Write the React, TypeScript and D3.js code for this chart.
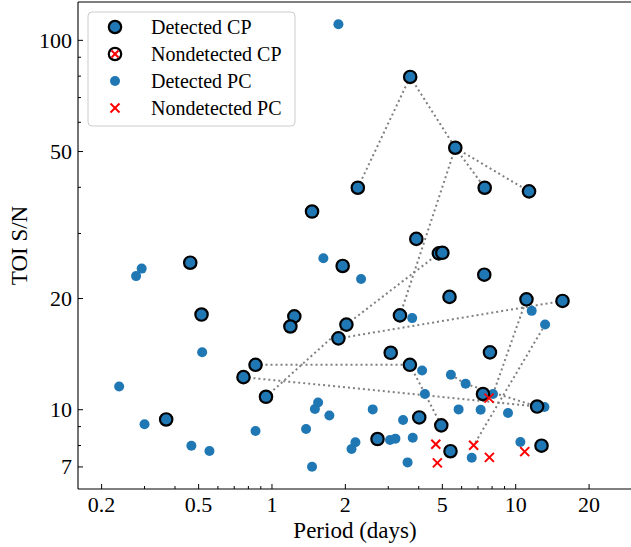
import React from "react";
import * as d3 from "d3";

// ---- data (period in days, TOI S/N) ----
const detectedCPPeriod = [3.69, 5.65, 2.25, 7.46, 11.34, 1.46, 3.91, 4.84, 5.0, 0.462, 1.95, 7.43, 5.35, 11.07, 15.56, 0.514, 1.235, 3.35, 1.19, 2.02, 1.873, 3.07, 7.84, 0.856, 3.68, 0.764, 0.945, 7.34, 12.24, 0.368, 4.02, 4.95, 2.71, 12.76, 5.4];
const detectedCPSNR = [79.6, 51.2, 39.9, 39.9, 39.0, 34.4, 29.0, 26.5, 26.6, 25.0, 24.5, 23.2, 20.2, 19.9, 19.7, 18.1, 17.9, 18.0, 16.8, 17.0, 15.6, 14.26, 14.3, 13.23, 13.23, 12.25, 10.84, 11.03, 10.2, 9.41, 9.53, 9.07, 8.33, 7.99, 7.72];

const detectedPCPeriod = [1.873, 1.625, 2.32, 0.292, 0.277, 3.76, 11.63, 13.2, 0.517, 4.13, 5.42, 6.23, 0.236, 4.24, 8.07, 1.546, 1.5, 2.59, 5.83, 7.18, 13.12, 9.3, 1.72, 3.45, 0.3, 1.38, 0.856, 3.78, 3.05, 3.21, 2.2, 2.12, 10.45, 0.467, 0.554, 1.46, 3.6, 6.6];
const detectedPCSNR = [110.5, 25.7, 22.6, 24.1, 23.0, 17.7, 18.52, 17.0, 14.3, 12.77, 12.43, 11.75, 11.56, 11.03, 11.03, 10.46, 10.04, 10.02, 10.02, 10.0, 10.17, 9.8, 9.65, 9.38, 9.13, 8.87, 8.76, 8.4, 8.28, 8.35, 8.16, 7.83, 8.18, 7.99, 7.73, 7.01, 7.2, 7.41];

const nondetectedPCPeriod = [4.7, 4.77, 6.72, 7.8, 10.89, 7.77];
const nondetectedPCSNR = [8.06, 7.18, 8.01, 7.43, 7.7, 10.75];

const nondetectedCPPeriod: number[] = [];
const nondetectedCPSNR: number[] = [];

// segments joining planets of the same system: [p1, s1, p2, s2]
const systemLinks = [
  [2.25, 39.9, 3.69, 79.6],
  [3.69, 79.6, 5.65, 51.2],
  [5.65, 51.2, 7.46, 39.9],
  [5.65, 51.2, 11.34, 39.0],
  [5.65, 51.2, 3.35, 18.0],
  [0.945, 10.84, 2.02, 17.0],
  [2.02, 17.0, 4.84, 26.5],
  [1.873, 15.6, 15.56, 19.7],
  [0.856, 13.23, 3.68, 13.23],
  [3.68, 13.23, 4.95, 9.07],
  [0.764, 12.25, 12.24, 10.2],
  [5.42, 12.43, 6.23, 11.75],
  [6.23, 11.75, 12.24, 10.2],
  [8.07, 11.03, 11.07, 19.9],
  [13.2, 17.0, 6.72, 8.01],
];

const xMajorTicks = [0.2, 0.5, 1, 2, 5, 10, 20];
const xMajorLabels = ["0.2", "0.5", "1", "2", "5", "10", "20"];
const xMinorTicks = [0.3, 0.4, 0.6, 0.7, 0.8, 0.9, 3, 4, 6, 7, 8, 9];
const yMajorTicks = [7, 10, 20, 50, 100];
const yMajorLabels = ["7", "10", "20", "50", "100"];
const yMinorTicks = [8, 9, 30, 40, 60, 70, 80, 90];

const legendLabels = ["Detected CP", "Nondetected CP", "Detected PC", "Nondetected PC"];

const W = 631;
const H = 547;
const L = 78;
const R = 632;
const T = 2;
const B = 489;
const BLUE = "#1f77b4";
const RED = "#ff0000";
const FONT = "'Liberation Serif', 'Times New Roman', serif";

function Cross({ x, y, s = 4.5 }: { x: number; y: number; s?: number }) {
  return (
    <g stroke={RED} strokeWidth={2}>
      <line x1={x - s} y1={y - s} x2={x + s} y2={y + s} />
      <line x1={x - s} y1={y + s} x2={x + s} y2={y - s} />
    </g>
  );
}

export default function App() {
  const x = d3.scaleLog().domain([0.16, 30]).range([L, R]);
  const y = d3.scaleLog().domain([6.1, 127]).range([B, T]);

  const legendRows = [27, 54, 81, 108];

  return (
    <svg
      width={W}
      height={H}
      style={{ position: "absolute", left: 0, top: 0, background: "#fff" }}
      fontFamily={FONT}
    >
      {/* system links */}
      <g stroke="#808080" strokeWidth={2} strokeDasharray="2,3" fill="none">
        {systemLinks.map((d, i) => (
          <line key={i} x1={x(d[0])} y1={y(d[1])} x2={x(d[2])} y2={y(d[3])} />
        ))}
      </g>
      {/* detected PC */}
      <g fill={BLUE}>
        {detectedPCPeriod.map((p, i) => (
          <circle key={i} cx={x(p)} cy={y(detectedPCSNR[i])} r={5} />
        ))}
      </g>
      {/* detected CP */}
      <g fill={BLUE} stroke="#000" strokeWidth={2.2}>
        {detectedCPPeriod.map((p, i) => (
          <circle key={i} cx={x(p)} cy={y(detectedCPSNR[i])} r={6.2} />
        ))}
      </g>
      {/* nondetected CP */}
      {nondetectedCPPeriod.map((p, i) => (
        <g key={i}>
          <circle cx={x(p)} cy={y(nondetectedCPSNR[i])} r={6.2} fill="#fff" stroke="#000" strokeWidth={2.2} />
          <Cross x={x(p)} y={y(nondetectedCPSNR[i])} s={3.5} />
        </g>
      ))}
      {/* nondetected PC */}
      {nondetectedPCPeriod.map((p, i) => (
        <Cross key={i} x={x(p)} y={y(nondetectedPCSNR[i])} />
      ))}

      {/* axes spines (right spine lies just outside the frame) */}
      <g stroke="#000" strokeWidth={1.1} fill="none">
        <line x1={L} y1={T} x2={L} y2={B} />
        <line x1={L} y1={B} x2={R + 2} y2={B} />
        <line x1={L} y1={T} x2={R + 2} y2={T} />
      </g>
      {/* ticks */}
      <g stroke="#000" strokeWidth={1}>
        {xMajorTicks.map((t) => (
          <line key={"xM" + t} x1={x(t)} x2={x(t)} y1={B} y2={B - 5} />
        ))}
        {xMinorTicks.map((t) => (
          <line key={"xm" + t} x1={x(t)} x2={x(t)} y1={B} y2={B - 3} />
        ))}
        {yMajorTicks.map((t) => (
          <line key={"yM" + t} x1={L} x2={L + 5} y1={y(t)} y2={y(t)} />
        ))}
        {yMinorTicks.map((t) => (
          <line key={"ym" + t} x1={L} x2={L + 3} y1={y(t)} y2={y(t)} />
        ))}
      </g>
      <g fontSize={22} fill="#000">
        {xMajorTicks.map((t, i) => (
          <text key={"xl" + t} x={x(t)} y={512} textAnchor="middle">
            {xMajorLabels[i]}
          </text>
        ))}
        {yMajorTicks.map((t, i) => (
          <text key={"yl" + t} x={L - 6} y={y(t) + 7.5} textAnchor="end">
            {yMajorLabels[i]}
          </text>
        ))}
      </g>
      <text x={(L + R) / 2} y={538} textAnchor="middle" fontSize={23}>
        Period (days)
      </text>
      <text
        transform={`translate(27,${(T + B) / 2}) rotate(-90)`}
        textAnchor="middle"
        fontSize={23}
      >
        TOI S/N
      </text>

      {/* legend */}
      <rect x={88} y={12} width={207} height={114} rx={4} fill="#fff" fillOpacity={0.8} stroke="#cccccc" strokeWidth={1} />
      <circle cx={115} cy={legendRows[0]} r={6.2} fill={BLUE} stroke="#000" strokeWidth={2.2} />
      <circle cx={115} cy={legendRows[1]} r={6.2} fill="#fff" stroke="#000" strokeWidth={2.2} />
      <Cross x={115} y={legendRows[1]} s={3.5} />
      <circle cx={115} cy={legendRows[2]} r={5} fill={BLUE} />
      <Cross x={115} y={legendRows[3]} />
      <g fontSize={20} fill="#000">
        {legendLabels.map((l, i) => (
          <text key={l} x={151} y={legendRows[i] + 6.5}>
            {l}
          </text>
        ))}
      </g>
    </svg>
  );
}
